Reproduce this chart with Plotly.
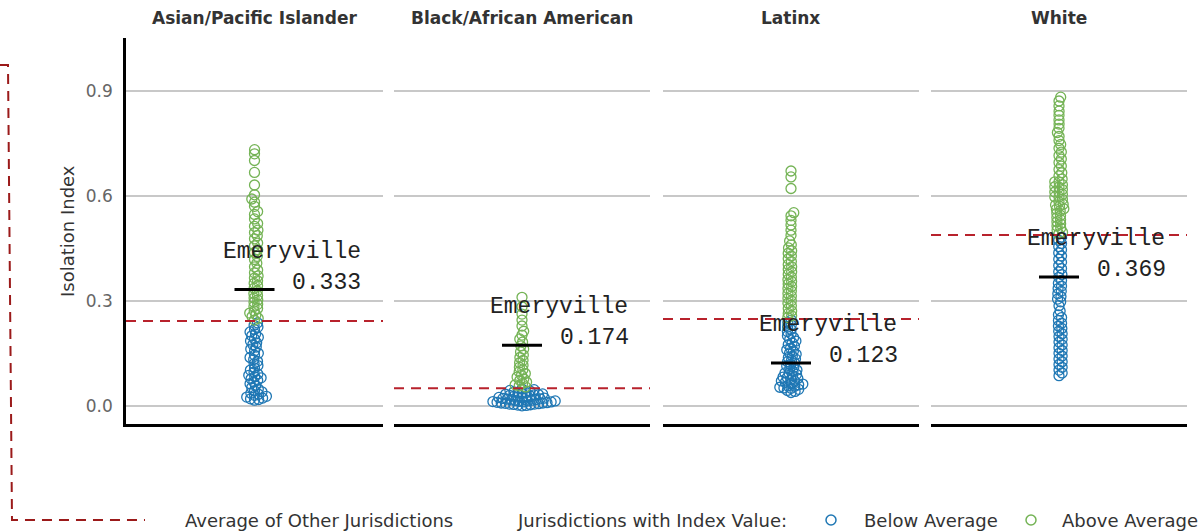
import numpy as np
import plotly.graph_objects as go

# ---------------- data ----------------
groups = ["Asian/Pacific Islander", "Black/African American", "Latinx", "White"]

api_values = [0.733, 0.721, 0.702, 0.668, 0.632, 0.604, 0.592, 0.583, 0.571, 0.556,
              0.548, 0.535, 0.522, 0.514, 0.503, 0.496, 0.487, 0.478, 0.466, 0.458,
              0.447, 0.439, 0.428, 0.419, 0.408, 0.398, 0.389, 0.381, 0.372, 0.366,
              0.358, 0.351, 0.344, 0.337, 0.329, 0.322, 0.316, 0.309, 0.303, 0.297,
              0.291, 0.285, 0.279, 0.272, 0.266, 0.261, 0.256, 0.251, 0.246,
              0.238, 0.231, 0.226, 0.219, 0.212, 0.206, 0.201, 0.197, 0.192, 0.186,
              0.181, 0.176, 0.169, 0.163, 0.158, 0.151, 0.146, 0.139, 0.133, 0.128,
              0.121, 0.116, 0.109, 0.103, 0.097, 0.092, 0.088, 0.084, 0.081, 0.078,
              0.074, 0.069, 0.064, 0.058, 0.053, 0.049, 0.044, 0.041, 0.037, 0.034,
              0.031, 0.028, 0.026, 0.023, 0.021, 0.019, 0.017]

black_values = [0.311, 0.284, 0.263, 0.246, 0.229, 0.214, 0.203, 0.192, 0.183, 0.172,
                0.163, 0.155, 0.146, 0.139, 0.131, 0.124, 0.117, 0.111, 0.104, 0.098,
                0.093, 0.088, 0.083, 0.078, 0.074, 0.069, 0.065, 0.061, 0.058, 0.055,
                0.049, 0.047, 0.045, 0.043, 0.041, 0.039, 0.038, 0.036, 0.035, 0.034,
                0.033, 0.032, 0.031, 0.029, 0.028, 0.027, 0.026, 0.025, 0.024, 0.023,
                0.022, 0.021, 0.020, 0.019, 0.018, 0.017, 0.016, 0.015, 0.014, 0.013,
                0.012, 0.011, 0.010, 0.009, 0.008, 0.007, 0.006, 0.005, 0.004, 0.003,
                0.002, 0.001, 0.012, 0.009, 0.006, 0.015]

latinx_values = [0.672, 0.655, 0.622, 0.553, 0.544, 0.531, 0.518, 0.503, 0.488, 0.472,
                 0.461, 0.452, 0.444, 0.437, 0.429, 0.421, 0.413, 0.405, 0.398, 0.391,
                 0.384, 0.377, 0.369, 0.362, 0.356, 0.349, 0.342, 0.336, 0.329, 0.322,
                 0.315, 0.308, 0.301, 0.294, 0.287, 0.279, 0.272, 0.265, 0.258, 0.253,
                 0.246, 0.239, 0.232, 0.226, 0.219, 0.213, 0.207, 0.201, 0.196, 0.191,
                 0.186, 0.181, 0.176, 0.171, 0.166, 0.161, 0.157, 0.152, 0.148, 0.143,
                 0.139, 0.135, 0.131, 0.127, 0.123, 0.119, 0.115, 0.111, 0.107, 0.103,
                 0.099, 0.095, 0.091, 0.087, 0.083, 0.079, 0.076, 0.072, 0.068, 0.064,
                 0.061, 0.057, 0.054, 0.051, 0.048, 0.045, 0.042, 0.039,
                 0.094, 0.082, 0.071, 0.063, 0.058, 0.052]

white_values = [0.883, 0.872, 0.858, 0.843, 0.831, 0.818, 0.806, 0.794, 0.782, 0.771,
                0.759, 0.748, 0.737, 0.726, 0.716, 0.706, 0.696, 0.686, 0.676, 0.667,
                0.658, 0.649, 0.641, 0.633, 0.626, 0.619, 0.612, 0.605, 0.598, 0.591,
                0.584, 0.577, 0.571, 0.564, 0.558, 0.551, 0.545, 0.539, 0.533, 0.527,
                0.521, 0.515, 0.509, 0.503, 0.497, 0.492,
                0.612, 0.598, 0.575, 0.563, 0.627, 0.641,
                0.483, 0.474, 0.465, 0.456, 0.447, 0.438, 0.429, 0.420, 0.411, 0.402,
                0.393, 0.384, 0.376, 0.368, 0.359, 0.351, 0.343, 0.336, 0.328, 0.321,
                0.313, 0.306, 0.298, 0.287, 0.272, 0.261, 0.253, 0.245, 0.237, 0.229,
                0.222, 0.214, 0.207, 0.199, 0.191, 0.183, 0.175, 0.167, 0.159, 0.151,
                0.143, 0.135, 0.127, 0.119, 0.111, 0.103, 0.095, 0.087]

avg_other = [0.243, 0.051, 0.249, 0.489]
emeryville = [0.333, 0.174, 0.123, 0.369]
emery_label = "Emeryville"
y_ticks = [0.0, 0.3, 0.6, 0.9]
y_tick_labels = ["0.0", "0.3", "0.6", "0.9"]
legend_avg = "Average of Other Jurisdictions"
legend_title = "Jurisdictions with Index Value:"
legend_below = "Below Average"
legend_above = "Above Average"

# ---------------- layout constants ----------------
W, H = 1204, 532
panel_px = [(126, 383), (394, 650), (663, 919), (931, 1187)]
y_top_px, y_bot_px = 38, 424
y_range = [-0.051, 1.052]
px_per_y = (y_bot_px - y_top_px) / (y_range[1] - y_range[0])
BLUE = "#1f77b4"
GREEN = "#74b355"
RED = "#b8222c"
FRAME_RED = "#9b1a1a"
FONT = "DejaVu Sans"
MONO = "Liberation Mono"


def px_x(p):
    return p / W


def px_y(p):
    return 1 - p / H


def swarm(values, d):
    """beeswarm offsets (in pixels) for values along y"""
    vals = np.asarray(values, float) * px_per_y
    order = np.argsort(vals)
    placed = []
    xs = np.zeros(len(vals))
    for i in order:
        y = vals[i]
        near = [(px, py) for px, py in placed if abs(py - y) < d]
        cands = [0.0]
        for px, py in near:
            dx = np.sqrt(max(d * d - (py - y) ** 2, 0.0))
            cands += [px + dx, px - dx]
        cands.sort(key=abs)
        for c in cands:
            if all((c - px) ** 2 + (y - py) ** 2 >= d * d - 1e-6 for px, py in near):
                xs[i] = c
                placed.append((c, y))
                break
    return xs


all_values = [api_values, black_values, latinx_values, white_values]

fig = go.Figure()
layout_axes = {}
annotations = []

for k, (vals, avg, em, name) in enumerate(zip(all_values, avg_other, emeryville, groups)):
    idx = "" if k == 0 else str(k + 1)
    xa, ya = "x" + idx, "y" + idx
    x0p, x1p = panel_px[k]
    half_w = (x1p - x0p) / 2
    offs = swarm(vals, 4.2) / half_w
    vals_arr = np.asarray(vals)
    below = vals_arr < avg
    fig.add_trace(go.Scatter(
        x=offs[below], y=vals_arr[below], mode="markers", xaxis=xa, yaxis=ya,
        marker=dict(symbol="circle-open", size=10, color=BLUE, line=dict(width=1.3, color=BLUE)),
        showlegend=False, hoverinfo="y"))
    fig.add_trace(go.Scatter(
        x=offs[~below], y=vals_arr[~below], mode="markers", xaxis=xa, yaxis=ya,
        marker=dict(symbol="circle-open", size=10, color=GREEN, line=dict(width=1.3, color=GREEN)),
        showlegend=False, hoverinfo="y"))
    # average of other jurisdictions
    fig.add_trace(go.Scatter(
        x=[-1, 1], y=[avg, avg], mode="lines", xaxis=xa, yaxis=ya,
        line=dict(color=RED, width=2, dash="10px,7px"), showlegend=False, hoverinfo="skip"))
    # Emeryville marker
    seg = 20 / half_w
    fig.add_trace(go.Scatter(
        x=[-seg, seg], y=[em, em], mode="lines", xaxis=xa, yaxis=ya,
        line=dict(color="black", width=3), showlegend=False, hoverinfo="skip"))
    annotations.append(dict(x=37 / half_w, y=em, xref=xa, yref=ya, text=emery_label,
                            showarrow=False, yshift=38, xanchor="center", yanchor="middle",
                            font=dict(family=MONO, size=23, color="#222")))
    annotations.append(dict(x=72 / half_w, y=em, xref=xa, yref=ya, text=f"{em:.3f}",
                            showarrow=False, yshift=7, xanchor="center", yanchor="middle",
                            font=dict(family=MONO, size=23, color="#222")))
    # panel title
    annotations.append(dict(x=px_x((x0p + x1p) / 2), y=px_y(18), xref="paper", yref="paper",
                            text=f"<b>{name}</b>", showarrow=False, xanchor="center", yanchor="middle",
                            font=dict(family=FONT, size=17, color="#333")))

    layout_axes["xaxis" + idx] = dict(
        domain=[px_x(x0p), px_x(x1p)], range=[-1, 1], anchor=ya,
        showgrid=False, zeroline=False, showticklabels=False, ticks="",
        showline=True, linecolor="black", linewidth=3)
    layout_axes["yaxis" + idx] = dict(
        domain=[px_y(y_bot_px), px_y(y_top_px)], range=y_range, anchor=xa,
        tickvals=y_ticks, ticktext=y_tick_labels,
        showgrid=True, gridcolor="#c8c8c8", gridwidth=1.5, zeroline=False,
        showline=(k == 0), linecolor="black", linewidth=2.5,
        showticklabels=(k == 0), ticks="", ticklabelstandoff=7,
        tickfont=dict(family=FONT, size=17, color="#666"))

# y-axis title
annotations.append(dict(x=px_x(67), y=px_y((y_top_px + y_bot_px) / 2), xref="paper", yref="paper",
                        text="Isolation Index", textangle=-90, showarrow=False,
                        xanchor="center", yanchor="middle",
                        font=dict(family=FONT, size=18, color="#333")))

# legend texts
leg_y = px_y(520)
for txt, xp in [(legend_avg, 183), (legend_title, 515), (legend_below, 862), (legend_above, 1060)]:
    annotations.append(dict(x=px_x(xp), y=leg_y, xref="paper", yref="paper", text=txt,
                            showarrow=False, xanchor="left", yanchor="middle",
                            font=dict(family=FONT, size=18, color="#333")))

shapes = []
# legend circles
for cx, col in [(831, BLUE), (1031, GREEN)]:
    shapes.append(dict(type="circle", xref="paper", yref="paper",
                       x0=px_x(cx - 5), x1=px_x(cx + 5), y0=px_y(520 + 5), y1=px_y(520 - 5),
                       line=dict(color=col, width=1.5)))
# dashed red frame (legend key artefact)
path = (f"M {px_x(0)} {px_y(65)} L {px_x(8)} {px_y(65)} L {px_x(12)} {px_y(520)} "
        f"L {px_x(145)} {px_y(520)}")
shapes.append(dict(type="path", xref="paper", yref="paper", path=path,
                   line=dict(color=FRAME_RED, width=2, dash="10px,7px")))

fig.update_layout(
    width=W, height=H, margin=dict(l=0, r=0, t=0, b=0),
    paper_bgcolor="white", plot_bgcolor="white",
    showlegend=False, annotations=annotations, shapes=shapes,
    **layout_axes)

fig.write_html("out.html", config={"displayModeBar": False},
               post_script="document.body.style.margin='0';document.body.style.overflow='hidden';")
